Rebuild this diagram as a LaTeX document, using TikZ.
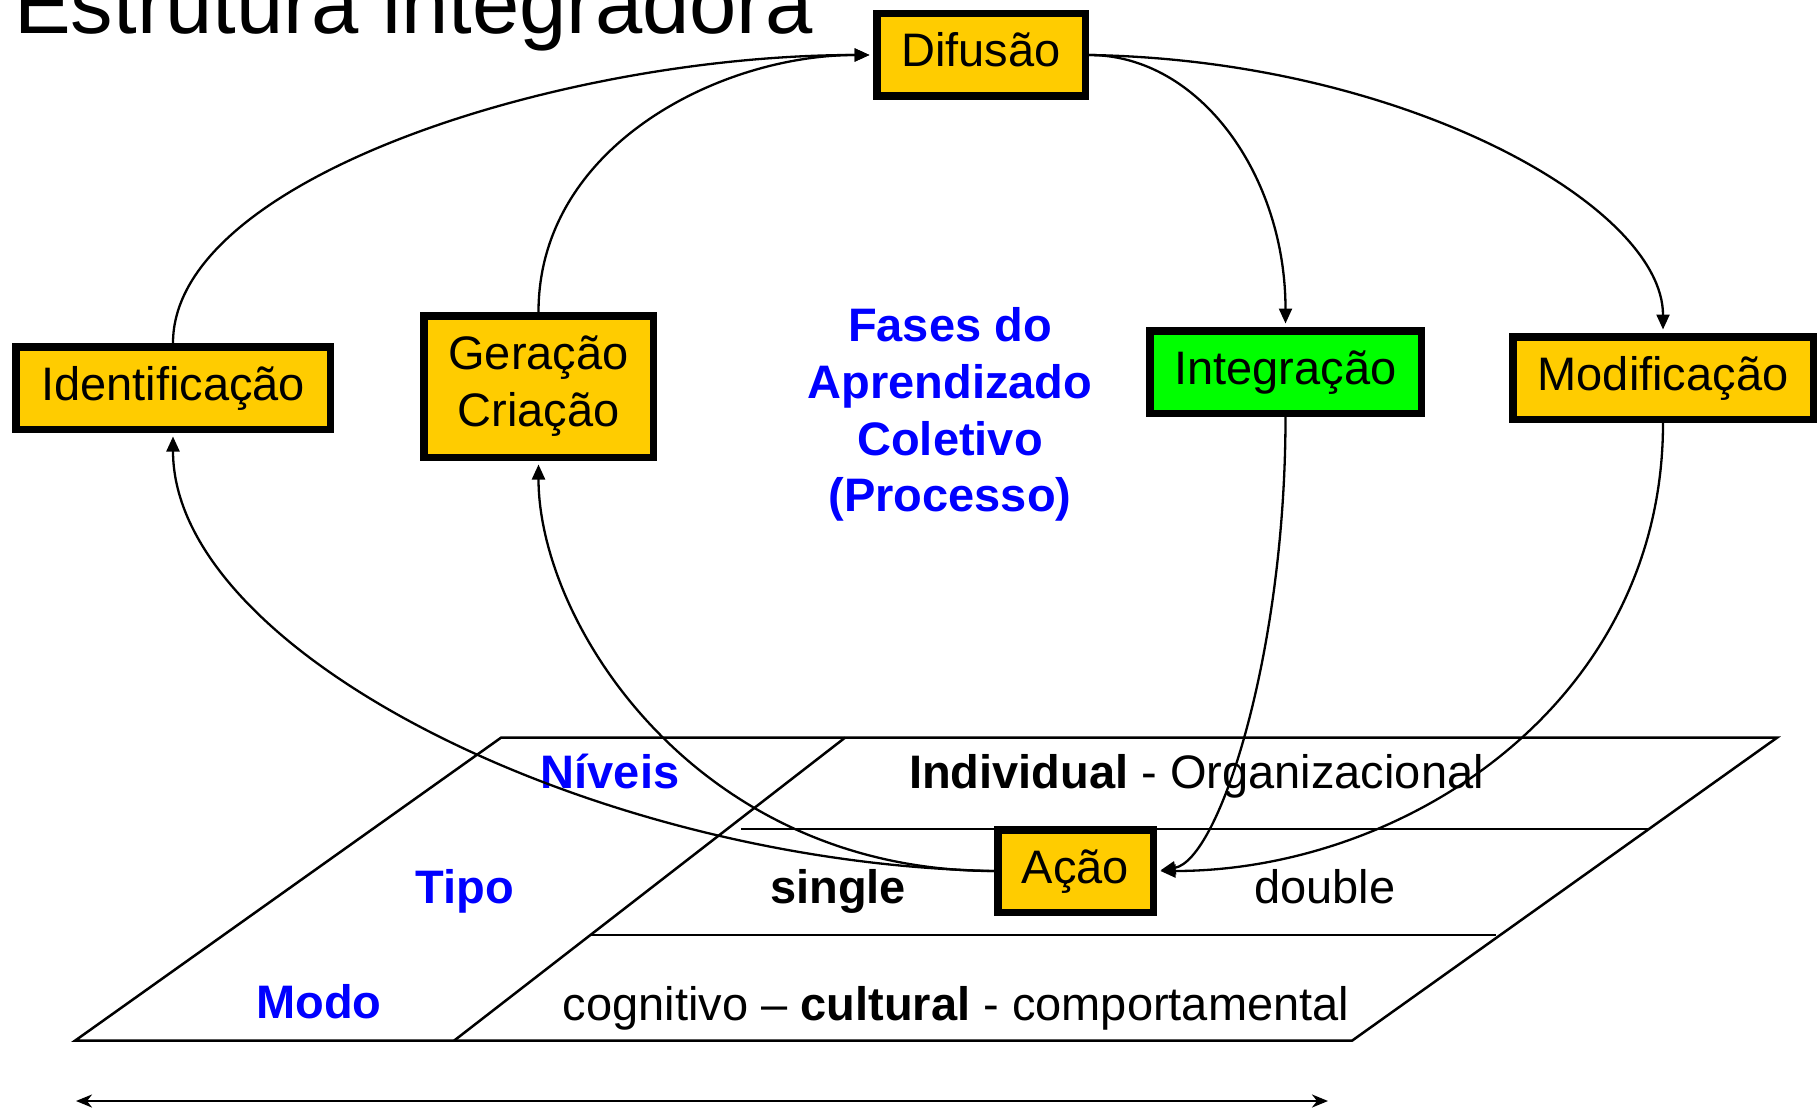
\documentclass[tikz,border=0pt]{standalone}
\usepackage{fontspec}
\setmainfont{Liberation Sans}
\usetikzlibrary{arrows.meta,calc}
\definecolor{gold}{RGB}{255,204,0}
\definecolor{lgreen}{RGB}{0,255,0}
\definecolor{pblue}{RGB}{0,0,255}
\newcommand\txtsz{\fontsize{47}{57}\selectfont}
\tikzset{
  phase/.style={draw=black, line width=7.5pt, fill=gold, inner sep=0pt,
    text height=34pt, text depth=10pt, align=center, font=\txtsz},
  lbl/.style={anchor=base, inner sep=0pt, font=\txtsz},
  blbl/.style={lbl, text=pblue, font=\txtsz\bfseries},
  conn/.style={line width=2.3pt, -{Triangle[length=15pt,width=13pt]}, shorten >=3.5pt},
  plane/.style={line width=2.5pt, line join=miter}
}
\begin{document}
\begin{tikzpicture}[x=1pt,y=-1pt]
\useasboundingbox (0,0) rectangle (1820,1110);
% title
\node[anchor=base west, inner sep=0pt, font=\fontsize{85}{100}\selectfont] (title) at (14,34) {Estrutura integradora};
% plane
\draw[plane] (501,737.7) -- (1777,737.7) -- (1352,1040.7) -- (75,1040.7) -- cycle;
\draw[plane] (845,737.7) -- (454,1040.7);
\draw[plane] (741,829) -- (1649,829);
\draw[plane] (590,935) -- (1496,935);
% plane labels
\node[blbl] (niv) at (610,788) {Níveis};
\node[lbl, anchor=base west] (indiv) at (909,788) {\textbf{Individual} - Organizacional};
\node[blbl] (tipo) at (465,903) {Tipo};
\node[lbl, font=\txtsz\bfseries] (single) at (838,903) {single};
\node[lbl] (double) at (1325,903) {double};
\node[blbl] (modo) at (319,1018) {Modo};
\node[lbl] (cog) at (956,1020) {cognitivo -- \textbf{cultural} - comportamental};
% center label
\node[anchor=base, inner sep=0pt, text=pblue, align=center, font=\fontsize{47}{56.7}\selectfont\bfseries] (fases) at (950,511.7) {Fases do\\Aprendizado\\Coletivo\\(Processo)};
% boxes
\node[phase, minimum width=208.5pt, minimum height=82.5pt] (dif) at (981,55) {Difusão};
\node[phase, minimum width=314.5pt, minimum height=82.5pt] (ident) at (173,388) {Identificação};
\node[phase, minimum width=229.5pt, minimum height=141.5pt, text height=, text depth=] (ger) at (538.5,386.5) {Geração\\Criação};
\node[phase, fill=lgreen, minimum width=271.5pt, minimum height=82.5pt] (integ) at (1285.5,372) {Integração};
\node[phase, minimum width=300.5pt, minimum height=82.5pt] (modif) at (1663,378) {Modificação};
\node[phase, minimum width=155.5pt, minimum height=82.5pt] (acao) at (1075.5,871) {Ação};
% connectors
\draw[conn] (ident.north) .. controls ($(ident.north)+(0,-165)$) and ($(dif.west)+(-310,0)$) .. (dif.west);
\draw[conn] (ger.north) .. controls ($(ger.north)+(0,-166)$) and ($(dif.west)+(-153,0)$) .. (dif.west);
\draw[conn] (dif.east) .. controls ($(dif.east)+(111,0)$) and ($(integ.north)+(0,-151)$) .. (integ.north);
\draw[conn] (dif.east) .. controls ($(dif.east)+(315,5)$) and ($(modif.north)+(0,-127)$) .. (modif.north);
\draw[conn] (integ.south) .. controls ($(integ.south)+(0,237)$) and ($(acao.east)+(62,-11)$) .. (acao.east);
\draw[conn] (modif.south) .. controls ($(modif.south)+(0,281)$) and ($(acao.east)+(247,0)$) .. (acao.east);
\draw[conn] (acao.west) .. controls ($(acao.west)+(-400,-8)$) and ($(ident.south)+(0,220)$) .. (ident.south);
\draw[conn] (acao.west) .. controls ($(acao.west)+(-298,0)$) and ($(ger.south)+(0,162)$) .. (ger.south);
% bottom arrow
\coordinate (la) at (76,1101);
\coordinate (ra) at (1328,1101);
\draw[line width=2.5pt, {Stealth[length=16pt,width=13pt,inset=5pt]}-{Stealth[length=16pt,width=13pt,inset=5pt]}] (la) -- (ra);
\end{tikzpicture}
\end{document}
